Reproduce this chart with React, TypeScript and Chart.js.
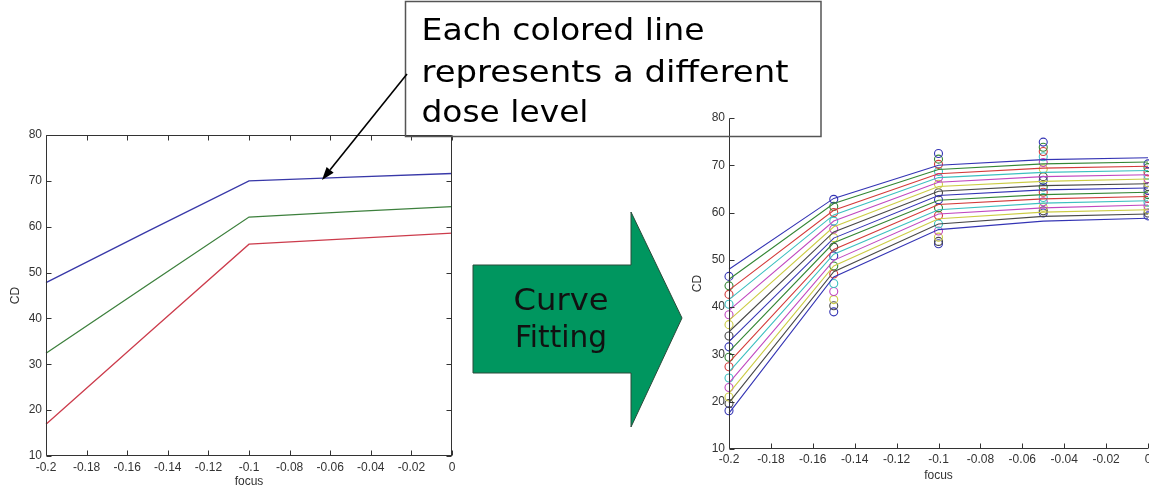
import React, { useEffect, useRef } from 'react';
import { Chart, registerables } from 'chart.js';

Chart.register(...registerables);

// ---------- shared axis ticks ----------
const X_TICKS = [-0.2, -0.18, -0.16, -0.14, -0.12, -0.1, -0.08, -0.06, -0.04, -0.02, 0];
const X_TICK_LABELS = ['-0.2', '-0.18', '-0.16', '-0.14', '-0.12', '-0.1', '-0.08', '-0.06', '-0.04', '-0.02', '0'];
const Y_TICKS = [10, 20, 30, 40, 50, 60, 70, 80];
const Y_TICK_LABELS = ['10', '20', '30', '40', '50', '60', '70', '80'];
const X_TITLE = 'focus';
const Y_TITLE = 'CD';

// ---------- left chart: three dose levels ----------
const FOCUS = [-0.2, -0.15, -0.1, -0.05, 0];
const LEFT_NAMES = ['dose A', 'dose B', 'dose C'];
const LEFT_BLUE = [47.8, 59.0, 70.0, 70.8, 71.6];
const LEFT_GREEN = [32.4, 47.3, 62.1, 63.3, 64.4];
const LEFT_RED = [16.9, 36.6, 56.2, 57.4, 58.6];
const LEFT_COLORS = ['#3838a8', '#3d803d', '#cc3c4c'];

// ---------- right chart: 15 dose levels (top to bottom) ----------
// fitted curve values at each focus position
const FIT_AT_M020 = [48.0, 45.9, 43.6, 41.6, 39.3, 37.2, 34.8, 32.7, 30.6, 28.3, 26.3, 24.0, 21.8, 19.8, 17.6];
const FIT_AT_M015 = [63.0, 61.9, 60.5, 59.5, 58.2, 57.0, 55.9, 54.6, 53.6, 52.2, 51.2, 49.9, 48.7, 47.5, 46.4];
const FIT_AT_M010 = [70.0, 69.1, 68.2, 67.4, 66.4, 65.5, 64.5, 63.6, 62.6, 61.7, 60.6, 59.7, 58.7, 57.6, 56.4];
const FIT_AT_M005 = [71.2, 70.3, 69.4, 68.5, 67.6, 66.6, 65.7, 64.8, 63.8, 62.9, 62.0, 61.0, 60.1, 59.2, 58.2];
const FIT_AT_000 = [71.6, 70.7, 69.8, 68.9, 68.0, 67.1, 66.1, 65.2, 64.3, 63.4, 62.5, 61.6, 60.6, 59.7, 58.8];
// measured values (circles)
const MEAS_AT_M020 = [46.5, 44.5, 42.7, 40.6, 38.4, 36.3, 33.9, 31.6, 29.4, 27.4, 25.0, 23.0, 21.0, 19.6, 18.1];
const MEAS_AT_M015 = [62.8, 61.3, 60.0, 58.2, 56.5, 54.7, 52.7, 50.8, 48.7, 47.0, 45.0, 43.3, 41.6, 40.3, 39.0];
const MEAS_AT_M010 = [72.5, 71.3, 70.2, 68.7, 67.4, 66.0, 64.2, 62.7, 61.0, 59.4, 57.6, 56.1, 54.8, 53.9, 53.4];
const MEAS_AT_M005 = [74.9, 73.8, 72.9, 71.8, 70.6, 69.2, 67.6, 66.8, 65.4, 64.3, 63.2, 62.3, 61.1, 60.4, 59.9];
const MEAS_AT_000 = [70.3, 69.5, 68.6, 67.9, 67.1, 66.3, 65.5, 64.7, 63.8, 63.0, 62.2, 61.4, 60.6, 59.9, 59.3];
const DOSE_COLORS = [
  '#3434b4', '#348634', '#d43a3a', '#3cc0c0', '#c048c0', '#cccc44', '#484848',
  '#3434b4', '#348634', '#d43a3a', '#3cc0c0', '#c048c0', '#cccc44', '#484848',
  '#3434b4',
];

const AXIS_COLOR = '#333333';
const TEXT_COLOR = '#333333';
const TICK_FONT = { family: 'Liberation Sans, Arial, sans-serif', size: 12 };

const FIT_COLUMNS = [FIT_AT_M020, FIT_AT_M015, FIT_AT_M010, FIT_AT_M005, FIT_AT_000];
const MEAS_COLUMNS = [MEAS_AT_M020, MEAS_AT_M015, MEAS_AT_M010, MEAS_AT_M005, MEAS_AT_000];

function matlabAxesPlugin(box: boolean, tickLen: number) {
  return {
    id: 'matlabAxes',
    afterDraw(chart: any) {
      const { ctx, chartArea: a, scales } = chart;
      const xs = scales.x;
      const ys = scales.y;
      const L = Math.round(a.left) + 0.5;
      const R = Math.round(a.right) - 0.5;
      const T = Math.round(a.top) + 0.5;
      const B = Math.round(a.bottom) - 0.5;
      ctx.save();
      ctx.strokeStyle = AXIS_COLOR;
      ctx.lineWidth = 1;
      ctx.beginPath();
      ctx.moveTo(L, T);
      ctx.lineTo(L, B);
      ctx.lineTo(R + 0.5, B);
      if (box) {
        ctx.moveTo(L, T);
        ctx.lineTo(R, T);
        ctx.lineTo(R, B);
      }
      X_TICKS.forEach((v) => {
        const px = Math.round(xs.getPixelForValue(v)) + 0.5;
        ctx.moveTo(px, B);
        ctx.lineTo(px, B - tickLen);
        if (box) {
          ctx.moveTo(px, T);
          ctx.lineTo(px, T + tickLen);
        }
      });
      Y_TICKS.forEach((v) => {
        const py = Math.round(ys.getPixelForValue(v)) + 0.5;
        ctx.moveTo(L, py);
        ctx.lineTo(L + tickLen, py);
        if (box) {
          ctx.moveTo(R, py);
          ctx.lineTo(R - tickLen, py);
        }
      });
      ctx.stroke();
      ctx.restore();
    },
  };
}

function makeScales(yWidth: number, xHeight: number, xTickPad: number, xTitlePad: number, yTitlePad: number) {
  return {
    x: {
      type: 'linear',
      min: -0.2,
      max: 0,
      grid: { display: false, drawTicks: false, tickLength: 0 },
      border: { display: false },
      afterBuildTicks: (s: any) => {
        s.ticks = X_TICKS.map((v) => ({ value: v }));
      },
      afterFit: (s: any) => {
        s.height = xHeight;
        s.paddingLeft = 0;
        s.paddingRight = 0;
      },
      ticks: {
        autoSkip: false,
        maxRotation: 0,
        minRotation: 0,
        padding: xTickPad,
        color: TEXT_COLOR,
        font: TICK_FONT,
        callback: (_v: any, i: number) => X_TICK_LABELS[i],
      },
      title: {
        display: true,
        text: X_TITLE,
        color: TEXT_COLOR,
        font: TICK_FONT,
        padding: { top: 0, bottom: xTitlePad },
      },
    },
    y: {
      type: 'linear',
      min: 10,
      max: 80,
      grid: { display: false, drawTicks: false, tickLength: 0 },
      border: { display: false },
      afterBuildTicks: (s: any) => {
        s.ticks = Y_TICKS.map((v) => ({ value: v }));
      },
      afterFit: (s: any) => {
        s.width = yWidth;
        s.paddingTop = 0;
        s.paddingBottom = 0;
      },
      ticks: {
        autoSkip: false,
        padding: 4,
        color: TEXT_COLOR,
        font: TICK_FONT,
        callback: (_v: any, i: number) => Y_TICK_LABELS[i],
      },
      title: {
        display: true,
        text: Y_TITLE,
        color: TEXT_COLOR,
        font: TICK_FONT,
        padding: { top: yTitlePad, bottom: 0 },
      },
    },
  };
}

function leftConfig(): any {
  const series = [LEFT_BLUE, LEFT_GREEN, LEFT_RED];
  return {
    type: 'line',
    data: {
      datasets: series.map((vals, k) => ({
        label: LEFT_NAMES[k],
        data: FOCUS.map((x, i) => ({ x, y: vals[i] })),
        borderColor: LEFT_COLORS[k],
        borderWidth: 1.3,
        pointRadius: 0,
        tension: 0,
        fill: false,
        clip: false,
      })),
    },
    options: {
      animation: false,
      responsive: false,
      devicePixelRatio: 1,
      layout: { padding: { top: 15, right: 18, left: 0, bottom: 0 } },
      plugins: { legend: { display: false }, tooltip: { enabled: false } },
      scales: makeScales(46, 37, 4, 4, 8),
    },
    plugins: [matlabAxesPlugin(true, 5)],
  };
}

function rightConfig(): any {
  const datasets: any[] = [];
  DOSE_COLORS.forEach((color, d) => {
    datasets.push({
      label: 'fit ' + (d + 1),
      data: FOCUS.map((x, i) => ({ x, y: FIT_COLUMNS[i][d] })),
      borderColor: color,
      borderWidth: 1.1,
      pointRadius: 0,
      tension: 0,
      fill: false,
      clip: false,
    });
  });
  DOSE_COLORS.forEach((color, d) => {
    datasets.push({
      label: 'measured ' + (d + 1),
      data: FOCUS.map((x, i) => ({ x, y: MEAS_COLUMNS[i][d] })),
      showLine: false,
      borderColor: color,
      backgroundColor: 'rgba(0,0,0,0)',
      pointStyle: 'circle',
      pointRadius: 4,
      pointBorderWidth: 1.1,
      pointBorderColor: color,
      pointBackgroundColor: 'rgba(0,0,0,0)',
      clip: false,
    });
  });
  return {
    type: 'line',
    data: { datasets },
    options: {
      animation: false,
      responsive: false,
      devicePixelRatio: 1,
      layout: { padding: { top: 18, right: 22, left: 0, bottom: 0 } },
      plugins: { legend: { display: false }, tooltip: { enabled: false } },
      scales: makeScales(39, 44, 3, 10, 0),
    },
    plugins: [matlabAxesPlugin(false, 5)],
  };
}

function ChartCanvas({ config, left, top, width, height }: any) {
  const ref = useRef<HTMLCanvasElement | null>(null);
  useEffect(() => {
    if (!ref.current) return;
    const chart = new Chart(ref.current, config());
    return () => chart.destroy();
  }, []);
  return (
    <canvas
      ref={ref}
      width={width}
      height={height}
      style={{ position: 'absolute', left, top, width, height, display: 'block' }}
    />
  );
}

export default function App() {
  useEffect(() => {
    document.body.style.margin = '0';
    document.body.style.background = '#ffffff';
    document.body.style.overflow = 'hidden';
  }, []);

  // annotation arrow geometry (callout from text box to the top line)
  const ax1 = 407, ay1 = 74, ax2 = 322, ay2 = 180;
  const dx = ax2 - ax1, dy = ay2 - ay1;
  const len = Math.sqrt(dx * dx + dy * dy);
  const ux = dx / len, uy = dy / len;
  const hl = 13, hw = 4.5;
  const bx = ax2 - ux * hl, by = ay2 - uy * hl;
  const head = `${ax2},${ay2} ${bx - uy * hw},${by + ux * hw} ${bx + uy * hw},${by - ux * hw}`;

  const textFont = 'DejaVu Sans, Verdana, sans-serif';

  return (
    <div style={{ position: 'absolute', left: 0, top: 0, width: 1149, height: 493, background: '#fff', overflow: 'hidden' }}>
      <ChartCanvas config={leftConfig} left={0} top={120} width={470} height={373} />
      <ChartCanvas config={rightConfig} left={690} top={100} width={480} height={393} />
      <svg
        width={1149}
        height={493}
        style={{ position: 'absolute', left: 0, top: 0, pointerEvents: 'none' }}
      >
        {/* green block arrow */}
        <polygon
          points="473,265 631,265 631,212 682,318 631,427 631,373 473,373"
          fill="#00965f"
          stroke="#2a4a3a"
          strokeWidth={1}
        />
        <text x={561} y={310} textAnchor="middle" fontFamily={textFont} fontSize={29.5} fill="#111" textLength={95} lengthAdjust="spacingAndGlyphs">Curve</text>
        <text x={561} y={347} textAnchor="middle" fontFamily={textFont} fontSize={29.5} fill="#111" textLength={92} lengthAdjust="spacingAndGlyphs">Fitting</text>

        {/* callout box */}
        <rect x={405.5} y={1.5} width={415.5} height={135} fill="none" stroke="#555" strokeWidth={1.5} />
        <text x={421.5} y={40} fontFamily={textFont} fontSize={29.5} fill="#000" textLength={283} lengthAdjust="spacingAndGlyphs">Each colored line</text>
        <text x={421.5} y={81.5} fontFamily={textFont} fontSize={29.5} fill="#000" textLength={367} lengthAdjust="spacingAndGlyphs">represents a different</text>
        <text x={421.5} y={121.5} fontFamily={textFont} fontSize={29.5} fill="#000" textLength={167} lengthAdjust="spacingAndGlyphs">dose level</text>

        {/* callout arrow */}
        <line x1={ax1} y1={ay1} x2={bx} y2={by} stroke="#000" strokeWidth={1.6} />
        <polygon points={head} fill="#000" />
      </svg>
    </div>
  );
}
